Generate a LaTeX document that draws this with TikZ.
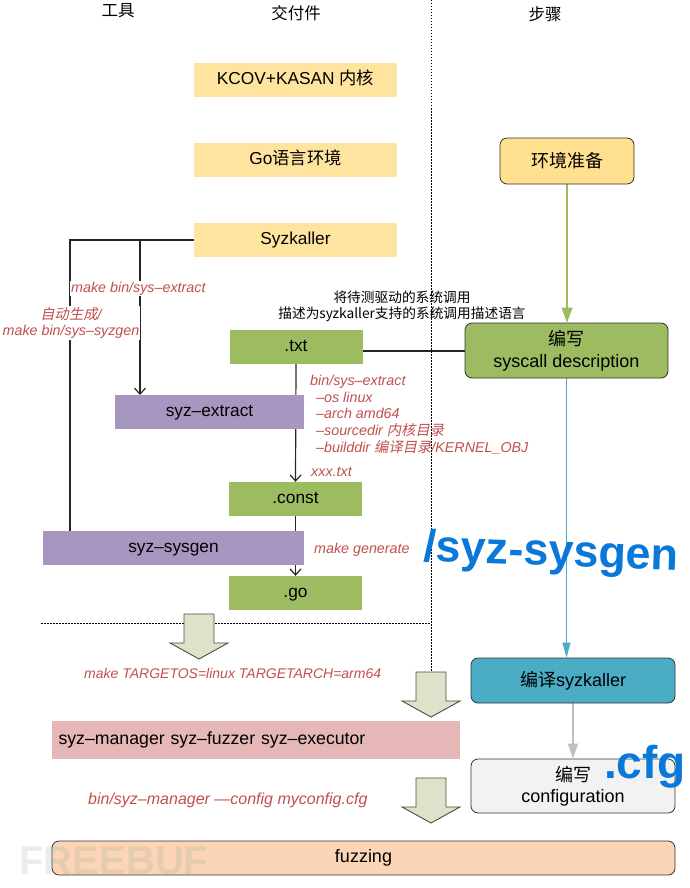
\documentclass[tikz,border=0pt]{standalone}
\usepackage{fontspec}
\setmainfont{Liberation Sans}
\newfontfamily\cjk{Noto Sans CJK SC}
\newfontfamily\cjkit[FakeSlant=0.2]{Noto Sans CJK SC}
\usepackage{xcolor}
\usetikzlibrary{arrows.meta,backgrounds}

\definecolor{delivyellow}{HTML}{FFE49F}
\definecolor{stepyellow}{HTML}{FFE08F}
\definecolor{boxgreen}{HTML}{9DBB61}
\definecolor{toolpurple}{HTML}{A797C0}
\definecolor{binpink}{HTML}{E5B8B7}
\definecolor{stepteal}{HTML}{4BACC6}
\definecolor{steporange}{HTML}{FBD5B5}
\definecolor{cfggrey}{HTML}{F2F2F2}
\definecolor{cmdred}{HTML}{C0504D}
\definecolor{inkblue}{HTML}{0A78D8}
\definecolor{arrowfill}{HTML}{DDE2CB}
\definecolor{arrowline}{HTML}{4A4F3A}
\definecolor{markgrey}{HTML}{8FA8A0}

\tikzset{
    flatbox/.style={inner sep=0pt,text height=12.5pt,text depth=3.5pt,font=\fontsize{17.3}{20}\selectfont},
    stepbox/.style={draw=black!80,thick,rounded corners=7pt,inner sep=0pt,align=center,font=\fontsize{18}{21.5}\selectfont},
    cmdlabel/.style={text=cmdred,inner sep=1pt,font=\fontsize{14.3}{16.7}\selectfont\itshape},
    headlabel/.style={inner sep=0pt,font=\fontsize{16.5}{20}\selectfont\cjk},
    inklabel/.style={text=inkblue,inner sep=0pt,font=\bfseries},
    fatarrow/.pic={
        \draw[fill=arrowfill,draw=arrowline,line width=0.9pt,line join=miter]
        (-15,0) -- (-15,29) -- (-29,29) -- (0,45) -- (29,29) -- (15,29) -- (15,0) -- cycle;
    }
}

\begin{document}
\begin{tikzpicture}[x=1pt,y=-1pt]
    \useasboundingbox (0,0) rectangle (690,888);

    % Headers
    \node[headlabel] (htool) at (118,11) {工具};
    \node[headlabel] (hdeliv) at (296,13) {交付件};
    \node[headlabel] (hstep) at (545,14) {步骤};

    % Deliverables
    \node[flatbox,fill=delivyellow,minimum width=203pt,minimum height=34pt] (kcov) at (295.5,80) {KCOV+KASAN {\cjk 内核}};
    \node[flatbox,fill=delivyellow,minimum width=203pt,minimum height=34pt] (golang) at (295.5,160) {Go{\cjk 语言环境}};
    \node[flatbox,fill=delivyellow,minimum width=203pt,minimum height=34pt] (syzk) at (295.5,240) {Syzkaller};
    \node[flatbox,fill=boxgreen,minimum width=133pt,minimum height=34pt] (txt) at (296,347) {.txt};
    \node[flatbox,fill=boxgreen,minimum width=133pt,minimum height=34pt] (const) at (295.5,499) {.const};
    \node[flatbox,fill=boxgreen,minimum width=133pt,minimum height=34pt] (go) at (295.5,593) {.go};

    % Tools
    \node[flatbox,fill=toolpurple,minimum width=189pt,minimum height=34pt] (extract) at (209.5,412) {syz–extract};
    \node[flatbox,fill=toolpurple,minimum width=261pt,minimum height=34pt] (sysgen) at (173.5,548) {syz–sysgen};
    \node[flatbox,fill=binpink,minimum width=408pt,minimum height=38pt,text width=395pt,font=\fontsize{17.7}{20}\selectfont] (bins) at (256,740) {syz–manager syz–fuzzer syz–executor};

    % Steps
    \node[stepbox,fill=stepyellow,minimum width=134pt,minimum height=46pt] (prepare) at (567,161) {\cjk 环境准备};
    \node[stepbox,fill=boxgreen,minimum width=203pt,minimum height=55pt] (sysdesc) at (566.5,350.5) {{\cjk 编写}\\syscall description};
    \node[stepbox,fill=stepteal,minimum width=204pt,minimum height=45pt] (build) at (573,680.5) {{\cjk 编译}syzkaller};
    \node[stepbox,fill=cfggrey,minimum width=204pt,minimum height=54pt] (config) at (573,786) {{\cjk 编写}\\configuration};
    \node[stepbox,fill=steporange,minimum width=623pt,minimum height=34pt] (fuzzing) at (363.5,858) {fuzzing};

    % Free ends
    \coordinate (gendrop) at (70,531);
    \coordinate (extractdrop) at (140,395);

    % Connectors
    \begin{scope}[on background layer]
        \draw[black!85,line width=1.2pt] (syzk.west) -| (gendrop);
        \draw[black!85,line width=1.2pt,-{Straight Barb[length=6pt,width=11pt]}] (syzk.west) -| (extractdrop);
        \draw[black!85,line width=1.2pt,-{Straight Barb[length=6pt,width=11pt]}] (txt.south) -- (const.north);
        \draw[black!85,line width=1.2pt,-{Straight Barb[length=6pt,width=11pt]}] (const.south) -- (go.north);
        \draw[black!85,line width=1.2pt] ([yshift=-4pt]txt.east) -- ([yshift=-4pt]txt.east -| sysdesc.west);
        \draw[boxgreen,line width=1.1pt,-{Triangle[length=15pt,width=11pt]}] (prepare.south) -- (prepare.south |- sysdesc.north);
        \draw[stepteal,line width=1.1pt,-{Triangle[length=15pt,width=8pt]}] (sysdesc.south) -- (sysdesc.south |- build.north);
        \draw[black!25,line width=1.1pt,-{Triangle[length=15pt,width=10pt]}] (build.south) -- (config.north);
    \end{scope}

    % Descriptions
    \node[inner sep=0pt,font=\fontsize{13.7}{16}\selectfont\cjk,align=center] (descr) at (402,306) {将待测驱动的系统调用\\描述为syzkaller支持的系统调用描述语言};

    % Commands
    \node[cmdlabel,fill=white,anchor=west] (mkextract) at (70,288.5) {make bin/sys–extract};
    \node[cmdlabel,fill=white,align=center] (mksysgen) at (71,323) {{\cjkit 自动生成}/\\make bin/sys–syzgen};
    \node[cmdlabel,anchor=north west,align=left] (extractargs) at (309,374) {bin/sys–extract\\
        \hspace{6pt}–os linux\\
        \hspace{6pt}–arch amd64\\
        \hspace{6pt}–sourcedir {\cjkit 内核目录}\\
        \hspace{6pt}–builddir {\cjkit 编译目录}/KERNEL\_OBJ};
    \node[cmdlabel,anchor=west] (xxxtxt) at (310,472) {xxx.txt};
    \node[cmdlabel,anchor=west] (mkgen) at (313,550) {make generate};
    \node[cmdlabel,anchor=west,font=\fontsize{14}{16}\selectfont\itshape] (mktarget) at (83,673) {make TARGETOS=linux TARGETARCH=arm64};
    \node[cmdlabel,anchor=west,font=\fontsize{16}{18}\selectfont\itshape] (runmgr) at (87,800) {bin/syz–manager —config myconfig.cfg};

    % Dotted dividers
    \coordinate (divtop) at (431,0);
    \coordinate (divbot) at (431,672);
    \coordinate (divleft) at (41,623);
    \coordinate (divright) at (431,623);
    \draw[black,line width=1pt,dash pattern=on 1.5pt off 1.5pt] (divtop) -- (divbot);
    \draw[black,line width=1pt,dash pattern=on 1.5pt off 1.5pt] (divleft) -- (divright);

    % Fat arrows
    \pic at (199,614) {fatarrow};
    \pic at (431,672) {fatarrow};
    \pic at (431,778) {fatarrow};

    % Ink notes
    \node[inklabel,font=\fontsize{45}{50}\selectfont\bfseries,rotate=-2] (inksysgen) at (551,554) {/syz-sysgen};
    \node[inklabel,font=\fontsize{46}{50}\selectfont\bfseries] (inkcfg) at (645,767) {.cfg};

    % Watermark
    \node[inner sep=0pt,text=markgrey,opacity=0.2,font=\fontsize{40}{44}\selectfont\bfseries] (mark) at (114,861) {FREEBUF};
\end{tikzpicture}
\end{document}
